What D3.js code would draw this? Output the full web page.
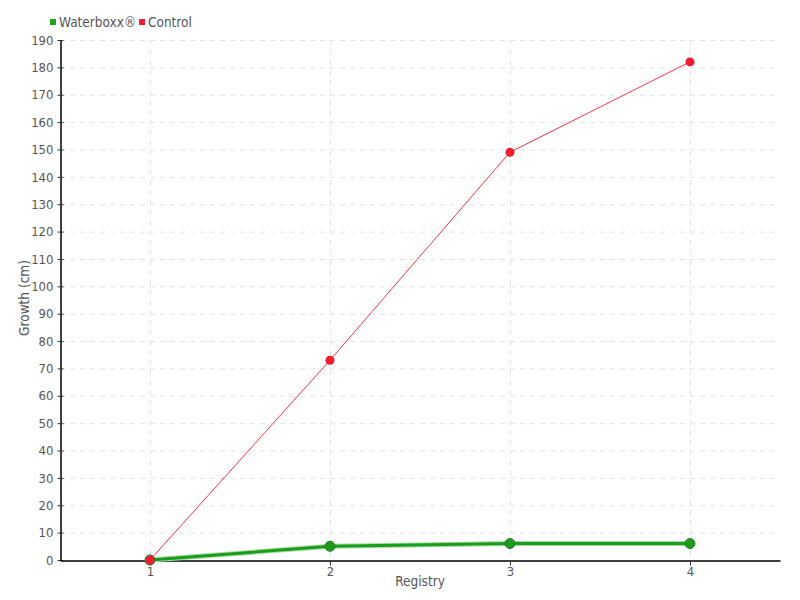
<!DOCTYPE html>
<html>
<head>
<meta charset="utf-8">
<script src="https://cdn.jsdelivr.net/npm/d3@7"></script>
<style>
	body { margin: 0; background: #fff; }
	svg text { font-family: "DejaVu Sans Condensed", "Liberation Sans Narrow", sans-serif; fill: #555; }
</style>
</head>
<body>
<svg id="chart" width="800" height="600"></svg>
<script>
// Chart data
var registries = [1, 2, 3, 4];
var waterboxx = [0, 5, 6, 6];
var control = [0, 73, 149, 182];
var yTicks = d3.range(0, 200, 10);

var margin = {top: 40, right: 20, bottom: 40, left: 60},
	width = 800, height = 600,
	iwidth = width - margin.left - margin.right,
	iheight = height - margin.top - margin.bottom;

var svg = d3.select("#chart");

// Scales
var x = d3.scaleLinear().domain([0.5, 4.5]).range([margin.left, margin.left + iwidth]);
var y = d3.scaleLinear().domain([0, 190]).range([margin.top + iheight, margin.top]);

// Grid lines
svg.append("g")
	.selectAll("line")
	.data(yTicks.slice(1))
	.enter()
	.append("line")
	.attr("x1", margin.left).attr("x2", margin.left + iwidth)
	.attr("y1", (d) => y(d) + 0.5).attr("y2", (d) => y(d) + 0.5)
	.attr("stroke", "#e3e3e3")
	.attr("stroke-dasharray", "5,5");

svg.append("g")
	.selectAll("line")
	.data(registries)
	.enter()
	.append("line")
	.attr("x1", (d) => x(d) + 0.5).attr("x2", (d) => x(d) + 0.5)
	.attr("y1", margin.top).attr("y2", margin.top + iheight)
	.attr("stroke", "#e3e3e3")
	.attr("stroke-dasharray", "5,5");

// Axes
var yAxis = svg.append("g")
	.attr("transform", "translate(" + (margin.left + 0.5) + ",0)")
	.call(d3.axisLeft(y).tickValues(yTicks).tickSize(3).tickSizeOuter(0).tickPadding(4).tickFormat(d3.format("d")));
yAxis.selectAll(".tick line").attr("x2", 3).attr("x1", -3);

var xAxis = svg.append("g")
	.attr("transform", "translate(0," + (margin.top + iheight + 0.5) + ")")
	.call(d3.axisBottom(x).tickValues(registries).tickSize(5).tickSizeOuter(0).tickPadding(1).tickFormat(d3.format("d")));

svg.selectAll(".domain").attr("stroke", "#000").attr("stroke-width", 1.5);
svg.selectAll(".tick line").attr("stroke", "#333");
svg.selectAll(".tick text").style("font-size", "13px").style("fill", "#555");

// Axis titles
svg.append("text")
	.attr("x", 420).attr("y", 586)
	.attr("text-anchor", "middle")
	.style("font-size", "13.5px")
	.text("Registry");

svg.append("text")
	.attr("transform", "translate(29," + (margin.top + iheight / 2 - 2) + ") rotate(-90)")
	.attr("text-anchor", "middle")
	.style("font-size", "13.5px")
	.text("Growth (cm)");

// Lines
var line = (vals) => d3.line()
	.x((d, i) => x(registries[i]))
	.y((d) => y(d))(vals);

svg.append("path")
	.attr("d", line(waterboxx))
	.attr("fill", "none")
	.attr("stroke", "#a8dca8")
	.attr("stroke-width", 5);
svg.append("path")
	.attr("d", line(waterboxx))
	.attr("fill", "none")
	.attr("stroke", "#1a9e1a")
	.attr("stroke-width", 3);

svg.append("g")
	.selectAll("circle")
	.data(waterboxx)
	.enter()
	.append("circle")
	.attr("cx", (d, i) => x(registries[i]))
	.attr("cy", (d) => y(d))
	.attr("r", 5)
	.attr("fill", "#1f9a1f")
	.attr("stroke", "#237d23")
	.attr("stroke-width", 1);

svg.append("path")
	.attr("d", line(control))
	.attr("fill", "none")
	.attr("stroke", "#ff3344")
	.attr("stroke-width", 1);

svg.append("g")
	.selectAll("circle")
	.data(control)
	.enter()
	.append("circle")
	.attr("cx", (d, i) => x(registries[i]))
	.attr("cy", (d) => y(d))
	.attr("r", 4.5)
	.attr("fill", "#ee1c2e");

// Legend
var legend = [
	{name: "Waterboxx®", color: "#1fa51f", x: 50},
	{name: "Control", color: "#ee1c2e", x: 139}
];
var lg = svg.append("g").selectAll("g")
	.data(legend)
	.enter()
	.append("g")
	.attr("transform", (d) => "translate(" + d.x + ",0)");
lg.append("rect")
	.attr("x", 0).attr("y", 19).attr("width", 6).attr("height", 6)
	.attr("fill", (d) => d.color);
lg.append("text")
	.attr("x", 9).attr("y", 27)
	.style("font-size", "13.5px")
	.text((d) => d.name);
</script>
</body>
</html>
